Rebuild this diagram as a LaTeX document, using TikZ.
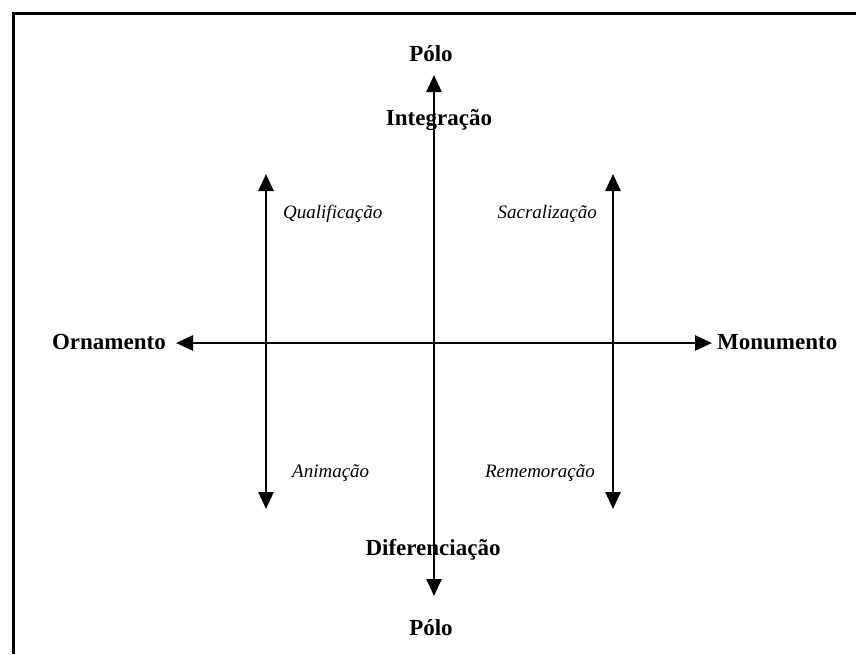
\documentclass[tikz,border=0pt]{standalone}
\usepackage{fontspec}
\setmainfont{Liberation Serif}
\usetikzlibrary{arrows.meta}
\begin{document}
\begin{tikzpicture}[x=1pt,y=-1pt,
  axis/.style={line width=2.6pt, {Triangle[length=17pt,width=15pt]}-{Triangle[length=17pt,width=15pt]}},
  pole/.style={font=\fontsize{23}{27}\selectfont\bfseries, inner sep=0pt},
  quad/.style={font=\fontsize{19}{23}\selectfont\itshape, inner sep=0pt},
  frame/.style={line width=3pt}]
\useasboundingbox (0,0) rectangle (856,654);
\coordinate (fbl) at (13,654);
\coordinate (ftl) at (13,13);
\coordinate (ftr) at (856,13);
\draw[frame] (fbl) -- (ftl) -- (ftr);
% axis end points
\coordinate (vtop) at (434,75);
\coordinate (vbot) at (434,596);
\coordinate (hleft) at (176,343);
\coordinate (hright) at (712,343);
\coordinate (ltop) at (266,174);
\coordinate (lbot) at (266,509);
\coordinate (rtop) at (613,174);
\coordinate (rbot) at (613,509);
\draw[axis] (vtop) -- (vbot);
\draw[axis] (hleft) -- (hright);
\draw[axis] (ltop) -- (lbot);
\draw[axis] (rtop) -- (rbot);
% labels
\node[pole, anchor=base] (polotop) at (431,61) {Pólo};
\node[pole, anchor=base] (integ) at (439,125) {Integração};
\node[pole, anchor=base] (difer) at (433,555) {Diferenciação};
\node[pole, anchor=base] (polobot) at (431,635) {Pólo};
\node[pole, anchor=base east] (orna) at (166,349) {Ornamento};
\node[pole, anchor=base west] (monu) at (717,349) {Monumento};
\node[quad, anchor=base west] (quali) at (283,218) {Qualificação};
\node[quad, anchor=base east] (sacra) at (597,218) {Sacralização};
\node[quad, anchor=base west] (anim) at (292,477) {Animação};
\node[quad, anchor=base east] (remem) at (595,477) {Rememoração};
\end{tikzpicture}
\end{document}
